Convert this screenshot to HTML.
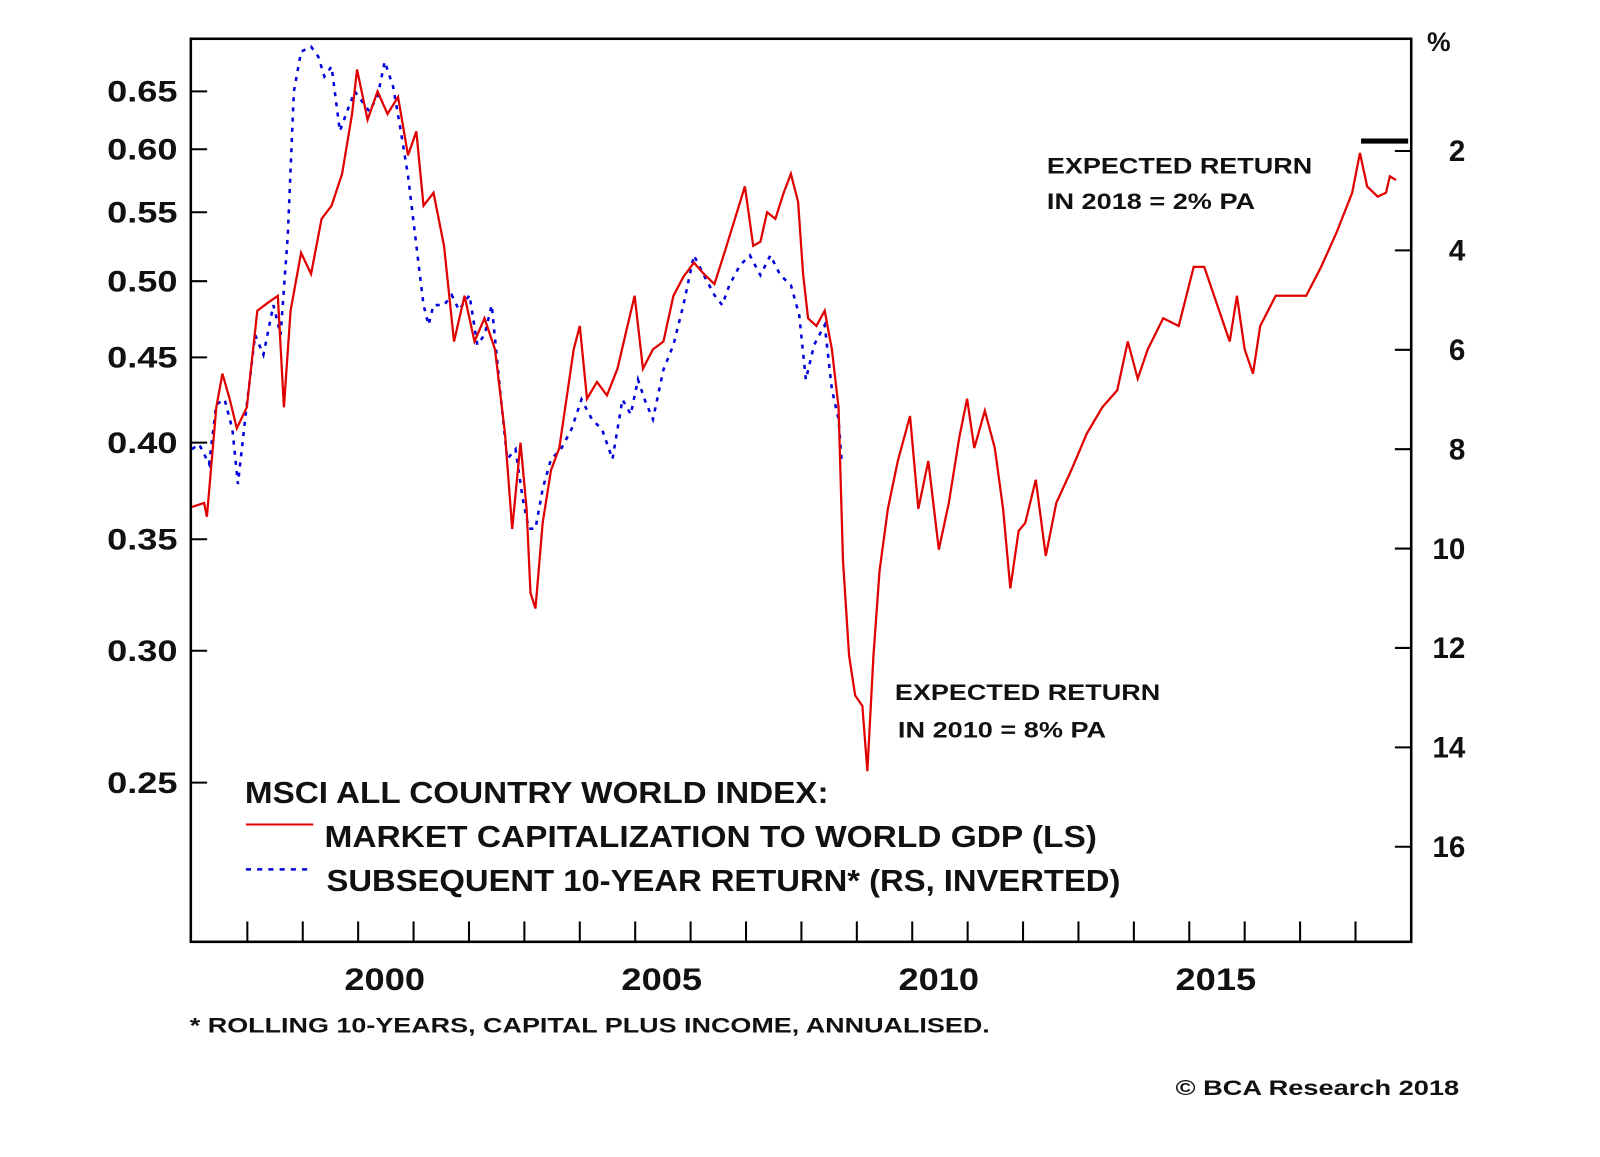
<!DOCTYPE html>
<html><head><meta charset="utf-8"><style>
body{margin:0;background:#fff;width:1600px;height:1152px;overflow:hidden;font-family:"Liberation Sans",Arial,sans-serif}
svg text{font-family:"Liberation Sans",Arial,sans-serif;font-weight:bold;fill:#111}
</style></head><body>
<svg id="chart" width="1600" height="1152" xmlns="http://www.w3.org/2000/svg">
<g transform="scale(1.0204)">
<g id="axes"></g><g id="series"></g>
<text x="1026" y="170" font-size="22" textLength="260" lengthAdjust="spacingAndGlyphs">EXPECTED RETURN</text>
<text x="1026" y="205" font-size="22" textLength="204" lengthAdjust="spacingAndGlyphs">IN 2018 = 2% PA</text>
<text x="877" y="686" font-size="22" textLength="260" lengthAdjust="spacingAndGlyphs">EXPECTED RETURN</text>
<text x="880" y="723" font-size="22" textLength="204" lengthAdjust="spacingAndGlyphs">IN 2010 = 8% PA</text>
<text x="240" y="787" font-size="30" textLength="572" lengthAdjust="spacingAndGlyphs">MSCI ALL COUNTRY WORLD INDEX:</text>
<line x1="241" y1="808" x2="307" y2="808" stroke="#e00000" stroke-width="2"/>
<text x="318" y="830" font-size="30" textLength="757" lengthAdjust="spacingAndGlyphs">MARKET CAPITALIZATION TO WORLD GDP (LS)</text>
<line x1="241" y1="852" x2="307" y2="852" stroke="#0000dd" stroke-width="2.5" stroke-dasharray="5,6"/>
<text x="320" y="873" font-size="30" textLength="778" lengthAdjust="spacingAndGlyphs">SUBSEQUENT 10-YEAR RETURN* (RS, INVERTED)</text>
<text x="186" y="1012" font-size="21" textLength="784" lengthAdjust="spacingAndGlyphs">* ROLLING 10-YEARS, CAPITAL PLUS INCOME, ANNUALISED.</text>
<text x="1152" y="1073" font-size="21" textLength="278" lengthAdjust="spacingAndGlyphs">© BCA Research 2018</text>
<text x="1410" y="50" font-size="26" text-anchor="middle">%</text>
</g>
</svg>
<script>
const redYears=[1997.00,1997.22,1997.27,1997.44,1997.55,1997.68,1997.81,1997.99,1998.18,1998.36,1998.55,1998.66,1998.78,1998.97,1999.15,1999.34,1999.52,1999.71,1999.89,1999.98,2000.17,2000.35,2000.53,2000.72,2000.90,2001.05,2001.18,2001.36,2001.55,2001.73,2001.92,2002.10,2002.28,2002.47,2002.65,2002.78,2002.93,2003.04,2003.11,2003.20,2003.33,2003.48,2003.63,2003.76,2003.89,2004.00,2004.13,2004.31,2004.49,2004.68,2004.86,2004.99,2005.14,2005.32,2005.51,2005.69,2005.87,2006.06,2006.24,2006.43,2006.61,2006.80,2006.98,2007.13,2007.26,2007.38,2007.53,2007.68,2007.81,2007.94,2008.03,2008.12,2008.27,2008.42,2008.55,2008.67,2008.75,2008.86,2008.97,2009.10,2009.19,2009.30,2009.41,2009.56,2009.74,2009.96,2010.11,2010.29,2010.48,2010.66,2010.85,2010.99,2011.12,2011.31,2011.49,2011.64,2011.77,2011.92,2012.04,2012.23,2012.41,2012.60,2012.87,2013.15,2013.43,2013.70,2013.89,2014.07,2014.25,2014.53,2014.81,2015.08,2015.27,2015.54,2015.73,2015.86,2016.00,2016.15,2016.28,2016.56,2016.83,2017.11,2017.38,2017.66,2017.94,2018.08,2018.21,2018.40,2018.55,2018.62,2018.73];
const redValues=[0.366,0.368,0.361,0.42,0.44,0.425,0.408,0.42,0.48,0.485,0.49,0.42,0.48,0.52,0.505,0.545,0.555,0.58,0.63,0.67,0.625,0.65,0.63,0.645,0.595,0.615,0.555,0.565,0.525,0.46,0.49,0.46,0.475,0.455,0.405,0.355,0.40,0.365,0.325,0.318,0.358,0.385,0.397,0.425,0.455,0.47,0.425,0.435,0.427,0.443,0.47,0.49,0.443,0.455,0.46,0.49,0.503,0.513,0.505,0.498,0.52,0.545,0.57,0.525,0.528,0.55,0.545,0.565,0.58,0.558,0.505,0.475,0.47,0.48,0.455,0.42,0.34,0.298,0.282,0.278,0.254,0.298,0.335,0.365,0.39,0.415,0.365,0.39,0.345,0.368,0.403,0.425,0.397,0.418,0.397,0.365,0.327,0.354,0.358,0.38,0.342,0.368,0.385,0.405,0.42,0.43,0.46,0.437,0.455,0.475,0.47,0.51,0.51,0.48,0.46,0.49,0.455,0.44,0.47,0.49,0.49,0.49,0.51,0.535,0.565,0.597,0.57,0.562,0.565,0.578,0.575];
const blueYears=[1997.00,1997.13,1997.31,1997.44,1997.59,1997.73,1997.83,1997.96,1998.14,1998.29,1998.47,1998.60,1998.73,1998.84,1998.97,1999.15,1999.28,1999.39,1999.52,1999.67,1999.80,1999.94,2000.07,2000.20,2000.35,2000.48,2000.63,2000.77,2000.90,2001.05,2001.18,2001.27,2001.36,2001.55,2001.69,2001.82,2002.01,2002.15,2002.28,2002.41,2002.56,2002.69,2002.84,2002.97,2003.08,2003.20,2003.33,2003.48,2003.66,2003.85,2004.03,2004.22,2004.40,2004.59,2004.77,2004.92,2005.05,2005.17,2005.32,2005.51,2005.69,2005.87,2006.06,2006.24,2006.43,2006.57,2006.70,2006.89,2007.07,2007.26,2007.44,2007.62,2007.81,2007.96,2008.08,2008.23,2008.42,2008.55,2008.67,2008.73];
const blueValues=[8.0,7.9,8.3,7.1,7.0,7.6,8.7,7.4,5.7,6.1,5.1,5.7,3.7,0.8,0.0,-0.1,0.1,0.5,0.3,1.6,1.2,0.8,1.0,1.2,0.9,0.2,0.7,1.6,2.5,3.9,5.1,5.5,5.1,5.1,4.9,5.2,4.9,5.9,5.7,5.1,6.8,8.2,8.0,9.0,9.6,9.6,8.8,8.2,8.0,7.6,7.0,7.4,7.6,8.2,7.0,7.3,6.6,7.0,7.4,6.4,5.9,5.1,4.1,4.5,4.9,5.1,4.7,4.3,4.1,4.5,4.1,4.5,4.7,5.3,6.6,5.9,5.5,6.8,7.4,8.3];
const leftTicks=[0.25,0.30,0.35,0.40,0.45,0.50,0.55,0.60,0.65];
const leftTickLabels=["0.25","0.30","0.35","0.40","0.45","0.50","0.55","0.60","0.65"];
const rightTicks=[2,4,6,8,10,12,14,16];
const yearLabels=[2000,2005,2010,2015];
const currentLevel=[2018.1,2018.95,1.8];

const L=187,R=1383,T=38,B=923;
const xS=y=>351+(y-2000)*54.3;
const yL=v=>767-709*Math.log(v/0.25);
const yR=v=>148+(v-2)*48.7;
const NS="http://www.w3.org/2000/svg";
const axes=document.getElementById('axes'),ser=document.getElementById('series');
function mk(tag,at,parent){const e=document.createElementNS(NS,tag);for(const k in at)e.setAttribute(k,at[k]);parent.appendChild(e);return e;}

let frame=mk('rect',{x:L,y:T,width:R-L,height:B-T,fill:'none',stroke:'#000','stroke-width':2.5},axes);


leftTicks.forEach((v,i)=>{
  const y=yL(v);
  let t=mk('line',{x1:L,x2:L+16,y1:y,y2:y,stroke:'#000','stroke-width':2},axes);
  
  
  let tx=mk('text',{x:105,y:y+10,'font-size':29,textLength:69,lengthAdjust:'spacingAndGlyphs'},axes);
  tx.textContent=leftTickLabels[i];
  
  
});
rightTicks.forEach(v=>{
  const y=yR(v);
  let t=mk('line',{x1:R-16,x2:R,y1:y,y2:y,stroke:'#000','stroke-width':2},axes);
  
  
  let tx=mk('text',{x:1436,y:y+10,'font-size':29,'text-anchor':'end'},axes);
  tx.textContent=v;
  
  
});
for(let yr=1998;yr<=2018;yr++){
  const x=xS(yr);
  let t=mk('line',{x1:x,x2:x,y1:B-20,y2:B,stroke:'#000','stroke-width':2},axes);
  
  
}
yearLabels.forEach(yr=>{
  let tx=mk('text',{x:xS(yr+0.47)-39,y:970,'font-size':31,textLength:79,lengthAdjust:'spacingAndGlyphs'},axes);
  tx.textContent=yr;
  
  
});
const clip=mk('clipPath',{id:'pc'},ser);mk('rect',{x:L,y:T,width:R-L,height:B-T},clip);
let bp=mk('polyline',{points:blueYears.map((y,i)=>xS(y)+','+yR(blueValues[i])).join(' '),fill:'none',stroke:'#0000dd','stroke-width':2.5,'stroke-dasharray':'4,6','clip-path':'url(#pc)'},ser);


let rp=mk('polyline',{points:redYears.map((y,i)=>xS(y)+','+yL(redValues[i])).join(' '),fill:'none',stroke:'#e00000','stroke-width':2.2,'clip-path':'url(#pc)'},ser);


let cl=mk('line',{x1:xS(currentLevel[0]),x2:xS(currentLevel[1]),y1:yR(currentLevel[2]),y2:yR(currentLevel[2]),stroke:'#000','stroke-width':5},ser);


</script>
</body></html>
